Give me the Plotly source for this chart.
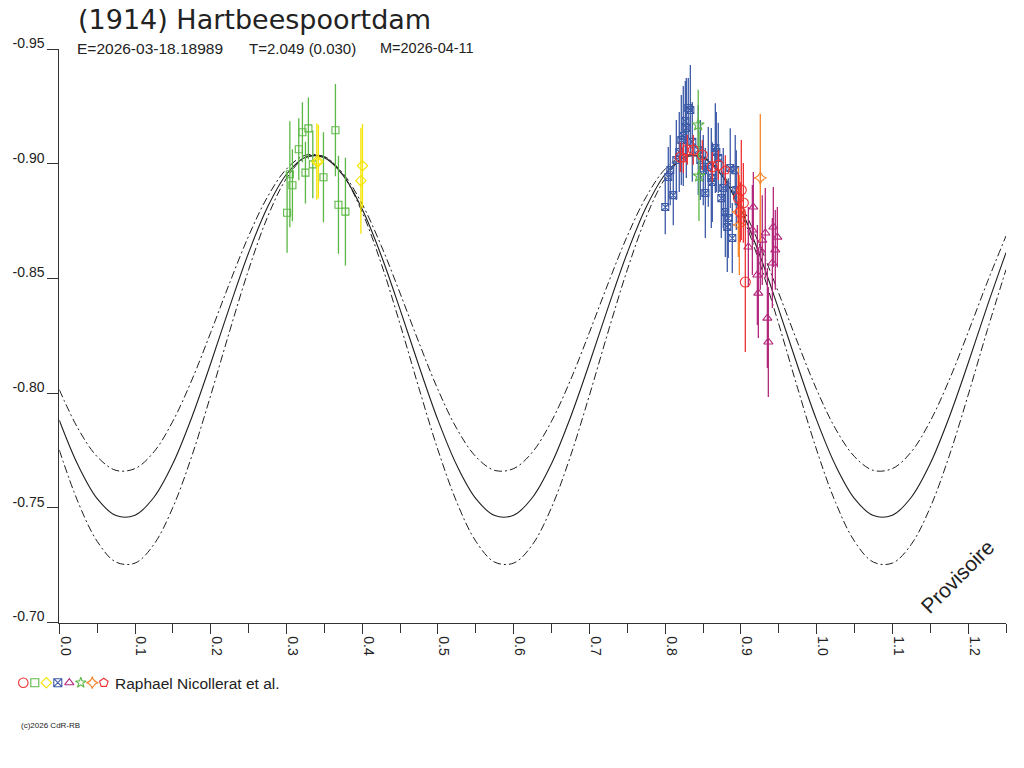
import plotly.graph_objects as go

# ---------------- data ----------------
phase_grid = [0.000, 0.025, 0.050, 0.075, 0.100, 0.125, 0.150, 0.175, 0.200, 0.225,
              0.250, 0.275, 0.300, 0.325, 0.350, 0.375, 0.400, 0.425, 0.450, 0.475,
              0.500, 0.525, 0.550, 0.575, 0.600, 0.625, 0.650, 0.675, 0.700, 0.725,
              0.750, 0.775, 0.800, 0.825, 0.850, 0.875, 0.900, 0.925, 0.950, 0.975,
              1.000, 1.025, 1.050, 1.075, 1.100, 1.125, 1.150, 1.175, 1.200, 1.225,
              1.250]

model_mid = [-0.7882, -0.7684, -0.7540, -0.7466, -0.7468, -0.7546, -0.7693, -0.7895, -0.8130, -0.8377,
             -0.8612, -0.8811, -0.8954, -0.9028, -0.9026, -0.8948, -0.8801, -0.8600, -0.8364, -0.8117,
             -0.7882, -0.7684, -0.7540, -0.7466, -0.7468, -0.7546, -0.7693, -0.7895, -0.8130, -0.8377,
             -0.8612, -0.8811, -0.8954, -0.9028, -0.9026, -0.8948, -0.8801, -0.8600, -0.8364, -0.8117,
             -0.7882, -0.7684, -0.7540, -0.7466, -0.7468, -0.7546, -0.7693, -0.7895, -0.8130, -0.8377,
             -0.8612]

model_small_amp = [-0.8015, -0.7844, -0.7723, -0.7663, -0.7671, -0.7744, -0.7878, -0.8057, -0.8265, -0.8481,
                   -0.8685, -0.8856, -0.8977, -0.9037, -0.9029, -0.8956, -0.8823, -0.8643, -0.8435, -0.8219,
                   -0.8015, -0.7844, -0.7723, -0.7663, -0.7671, -0.7744, -0.7878, -0.8057, -0.8265, -0.8481,
                   -0.8685, -0.8856, -0.8977, -0.9037, -0.9029, -0.8956, -0.8823, -0.8643, -0.8435, -0.8219,
                   -0.8015, -0.7844, -0.7723, -0.7663, -0.7671, -0.7744, -0.7878, -0.8057, -0.8265, -0.8481,
                   -0.8685]

model_large_amp = [-0.7752, -0.7523, -0.7354, -0.7263, -0.7259, -0.7341, -0.7502, -0.7726, -0.7991, -0.8271,
                   -0.8538, -0.8768, -0.8936, -0.9027, -0.9031, -0.8949, -0.8788, -0.8565, -0.8300, -0.8020,
                   -0.7752, -0.7523, -0.7354, -0.7263, -0.7259, -0.7341, -0.7502, -0.7726, -0.7991, -0.8271,
                   -0.8538, -0.8768, -0.8936, -0.9027, -0.9031, -0.8949, -0.8788, -0.8565, -0.8300, -0.8020,
                   -0.7752, -0.7523, -0.7354, -0.7263, -0.7259, -0.7341, -0.7502, -0.7726, -0.7991, -0.8271,
                   -0.8538]

red_x = [0.8200, 0.8292, 0.8371, 0.8490, 0.8622, 0.8701, 0.8966, 0.9005, 0.9032, 0.8992, 0.9058]
red_y = [-0.9029, -0.9060, -0.9060, -0.9038, -0.8986, -0.8994, -0.8850, -0.8885, -0.8829, -0.8789, -0.8484]
red_e = [0.0065, 0.0065, 0.0065, 0.0065, 0.0065, 0.0065, 0.0109, 0.0218, 0.0174, 0.0131, 0.0305]

green_x = [0.3210, 0.3289, 0.3162, 0.3347, 0.3250, 0.3044, 0.3078, 0.3008, 0.3488, 0.3646, 0.3686, 0.3778]
green_y = [-0.9137, -0.9154, -0.9063, -0.8997, -0.8961, -0.8954, -0.8906, -0.8786, -0.8941, -0.9146, -0.8821, -0.8791]
green_e = [0.0131, 0.0135, 0.0135, 0.0148, 0.0135, 0.0231, 0.0157, 0.0174, 0.0196, 0.0201, 0.0214, 0.0235]

yellow_x = [0.3421, 0.3400, 0.4003, 0.3982]
yellow_y = [-0.9009, -0.9009, -0.8991, -0.8926]
yellow_e = [0.0161, 0.0166, 0.0183, 0.0231]

blue_x = [0.8001, 0.8041, 0.8067, 0.8107, 0.8147, 0.8186, 0.8213, 0.8239, 0.8266, 0.8279,
          0.8305, 0.8332, 0.8358, 0.8437, 0.8530, 0.8569, 0.8609, 0.8622, 0.8662, 0.8675,
          0.8701, 0.8741, 0.8767, 0.8794, 0.8820, 0.8833, 0.8859, 0.8886, 0.8925, 0.8939,
          0.8464, 0.8503]
blue_y = [-0.8811, -0.8942, -0.8972, -0.8863, -0.9016, -0.9051, -0.9103, -0.9121, -0.9186, -0.9156,
          -0.9243, -0.9234, -0.9095, -0.9060, -0.8872, -0.8986, -0.8938, -0.8920, -0.9068, -0.9051,
          -0.9025, -0.8850, -0.8894, -0.8789, -0.8724, -0.8763, -0.8981, -0.8676, -0.8972, -0.8885,
          -0.9016, -0.8972]
blue_e = [0.0118, 0.0131, 0.0153, 0.0131, 0.0174, 0.0174, 0.0196, 0.0218, 0.0174, 0.0218,
          0.0131, 0.0196, 0.0174, 0.0196, 0.0196, 0.0174, 0.0218, 0.0174, 0.0196, 0.0174,
          0.0153, 0.0174, 0.0174, 0.0196, 0.0196, 0.0174, 0.0174, 0.0153, 0.0153, 0.0174,
          0.0174, 0.0153]

purple_x = [0.9098, 0.9151, 0.9164, 0.9217, 0.9230, 0.9256, 0.9322, 0.9349, 0.9362, 0.9415, 0.9428, 0.9454, 0.9481, 0.9282]
purple_y = [-0.8637, -0.8711, -0.8811, -0.8515, -0.8436, -0.8624, -0.8698, -0.8327, -0.8223, -0.8567, -0.8724, -0.8624, -0.8680, -0.8667]
purple_e = [0.0174, 0.0196, 0.0153, 0.0218, 0.0196, 0.0174, 0.0196, 0.0218, 0.0240, 0.0196, 0.0174, 0.0174, 0.0131, 0.0196]

star_x = [0.8436, 0.8446]
star_y = [-0.9169, -0.8946]
star_e = [0.0153, 0.0196]

orange_x = [0.9256, 0.8966, 0.8979]
orange_y = [-0.8938, -0.8789, -0.8733]
orange_e = [0.0279, 0.0196, 0.0218]

pent_x = [0.8794, 0.8239]
pent_y = [-0.8972, -0.9025]
pent_e = [0.0065, 0.0065]

x_ticks = [0.0, 0.1, 0.2, 0.3, 0.4, 0.5, 0.6, 0.7, 0.8, 0.9, 1.0, 1.1, 1.2]
y_ticks = [-0.95, -0.90, -0.85, -0.80, -0.75, -0.70]

title_text = "(1914) Hartbeespoortdam"
sub_texts = ["E=2026-03-18.18989", "T=2.049 (0.030)", "M=2026-04-11"]
observer_text = "Raphael Nicollerat et al."
copyright_text = "(c)2026 CdR-RB"
stamp_text = "Provisoire"

# ---------------- styling / layout ----------------
W, H = 1024, 768
FONT = "Liberation Sans, Arial, sans-serif"
TITLE_FONT = "DejaVu Sans, Liberation Sans, sans-serif"
TXT = "#222222"
LINE = "#1e1e1e"

RED = "#f03232"
GREEN = "#5cb845"
YELLOW = "#f5e400"
BLUE = "#3d5aa8"
PURPLE = "#b4287c"
ORANGE = "#f7842a"


def pxx(x):
    return x / W


def pyy(y):
    return 1 - y / H


fig = go.Figure()

for yy, dash, w in [(model_small_amp, "8px,3px,2px,3px", 1.0),
                    (model_large_amp, "8px,3px,2px,3px", 1.0),
                    (model_mid, "solid", 1.1)]:
    fig.add_trace(go.Scatter(x=phase_grid, y=yy, mode="lines", line_shape="spline",
                             line=dict(color=LINE, width=w, dash=dash),
                             hoverinfo="skip", xaxis="x", yaxis="y"))

series = [
    (green_x, green_y, green_e, GREEN, "square-open", 7),
    (yellow_x, yellow_y, yellow_e, YELLOW, "diamond-open", 8),
    (blue_x, blue_y, blue_e, BLUE, "square-x-open", 7),
    (star_x, star_y, star_e, GREEN, "star-open", 9),
    (purple_x, purple_y, purple_e, PURPLE, "triangle-up-open", 8),
    (orange_x, orange_y, orange_e, ORANGE, "star-diamond-open", 9),
    (red_x, red_y, red_e, RED, "circle-open", 10),
    (pent_x, pent_y, pent_e, RED, "pentagon-open", 9),
]
for sx, sy, se, c, sym, sz in series:
    fig.add_trace(go.Scatter(
        x=sx, y=sy, mode="markers",
        marker=dict(symbol=sym, size=sz, color=c, line=dict(width=1.1)),
        error_y=dict(type="data", array=se, visible=True, color=c, thickness=1.3, width=0),
        xaxis="x", yaxis="y"))

# legend row of symbols (auxiliary pixel axis placed under the plot)
LEG_L, LEG_R, LEG_T, LEG_B = 0, 120, 660, 705
legend_items = [(RED, "circle-open", 9.5), (GREEN, "square-open", 8), (YELLOW, "diamond-open", 8),
                (BLUE, "square-x-open", 8), (PURPLE, "triangle-up-open", 8), (GREEN, "star-open", 8),
                (ORANGE, "star-diamond-open", 8.5), (RED, "pentagon-open", 9)]
for i, (c, sym, sz) in enumerate(legend_items):
    fig.add_trace(go.Scatter(x=[23.3 + i * 11.5], y=[682.7], mode="markers",
                             marker=dict(symbol=sym, size=sz, color=c, line=dict(width=1.1)),
                             xaxis="x2", yaxis="y2", hoverinfo="skip"))

annotations = [
    dict(text=title_text, x=pxx(76.5), y=pyy(19.7), xanchor="left", yanchor="middle",
         font=dict(size=27, color=TXT, family=TITLE_FONT)),
    dict(text=sub_texts[0], x=pxx(76), y=pyy(48), xanchor="left", yanchor="middle",
         font=dict(size=15.5, color=TXT)),
    dict(text=sub_texts[1], x=pxx(248), y=pyy(48), xanchor="left", yanchor="middle",
         font=dict(size=15, color=TXT)),
    dict(text=sub_texts[2], x=pxx(379), y=pyy(48), xanchor="left", yanchor="middle",
         font=dict(size=14.5, color=TXT)),
    dict(text=observer_text, x=pxx(114), y=pyy(683), xanchor="left", yanchor="middle",
         font=dict(size=15.5, color=TXT)),
    dict(text=copyright_text, x=pxx(19.5), y=pyy(725.5), xanchor="left", yanchor="middle",
         font=dict(size=8, color=TXT)),
    dict(text=stamp_text, x=pxx(957.5), y=pyy(576.7), xanchor="center", yanchor="middle",
         textangle=-45, font=dict(size=21, color=TXT)),
]
for a in annotations:
    a.update(xref="paper", yref="paper", showarrow=False, borderpad=0)

fig.update_layout(
    width=W, height=H,
    margin=dict(l=0, r=0, t=0, b=0, pad=0, autoexpand=False),
    paper_bgcolor="white", plot_bgcolor="rgba(0,0,0,0)",
    showlegend=False,
    font=dict(family=FONT, color=TXT, size=14),
    annotations=annotations,
    xaxis=dict(domain=[pxx(59.3), pxx(1006)], range=[0, 1.25], anchor="y", automargin=False,
               tickmode="array", tickvals=x_ticks, ticktext=["%.1f" % v for v in x_ticks],
               tickangle=90, ticks="outside", ticklen=10, tickwidth=1, tickcolor="#333333",
               minor=dict(dtick=0.05, tick0=0, ticks="outside", ticklen=9, tickwidth=1, tickcolor="#333333"),
               showline=True, linecolor="#333333", linewidth=1,
               showgrid=False, zeroline=False, ticklabelshift=6,
               tickfont=dict(size=14, color=TXT)),
    yaxis=dict(domain=[pyy(622.5), pyy(49)], range=[-0.70, -0.95], anchor="x", automargin=False,
               tickmode="array", tickvals=y_ticks, ticktext=["%.2f" % v for v in y_ticks],
               ticks="outside", ticklen=11, tickwidth=1, tickcolor="#333333",
               showline=True, linecolor="#333333", linewidth=1,
               showgrid=False, zeroline=False, ticklabelshift=6,
               tickfont=dict(size=14, color=TXT)),
    xaxis2=dict(domain=[pxx(LEG_L), pxx(LEG_R)], range=[LEG_L, LEG_R], visible=False,
                anchor="y2", fixedrange=True, automargin=False),
    yaxis2=dict(domain=[pyy(LEG_B), pyy(LEG_T)], range=[LEG_B, LEG_T], visible=False,
                anchor="x2", fixedrange=True, automargin=False),
)

fig.write_html("out.html", config={"displayModeBar": False},
               post_script="document.body.style.margin='0';document.documentElement.style.overflow='hidden';document.body.style.overflow='hidden';")
